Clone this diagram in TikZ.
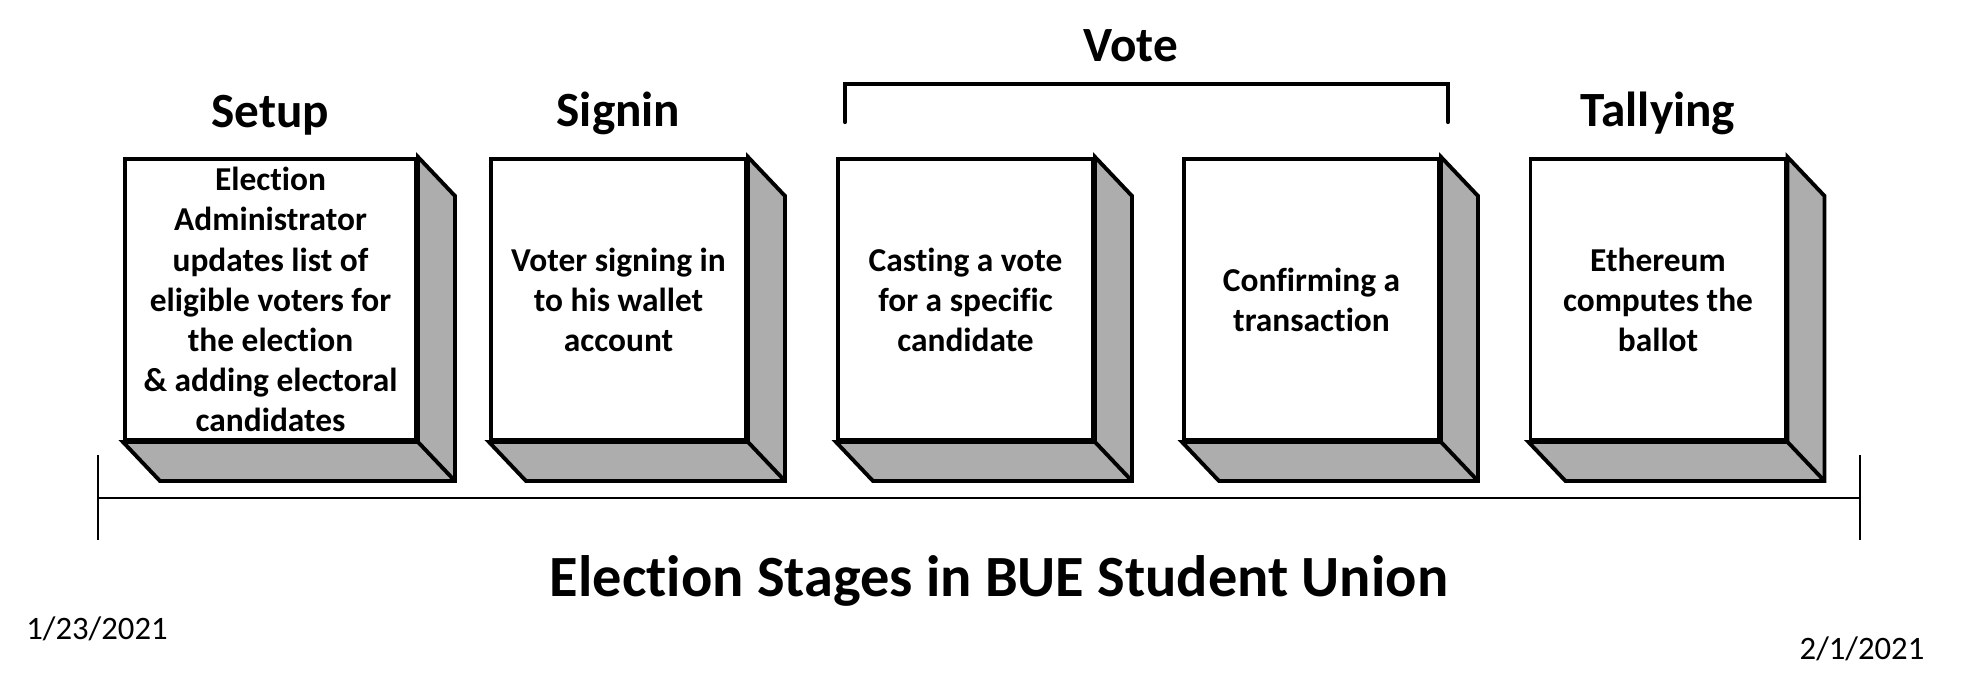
\documentclass[tikz,border=0pt]{standalone}
\usepackage{fontspec}
\setmainfont[Ligatures={NoCommon}]{Carlito}
\usepackage{tikz}
\usetikzlibrary{calc}
\usetikzlibrary{positioning}

\definecolor{sidegray}{RGB}{173,173,173}

\begin{document}
\begin{tikzpicture}[x=0.01cm, y=-0.01cm,
        stagebox/.style = {draw, fill=white, line width=1.1pt, align=center, inner sep=0pt,
                minimum width=2.55cm, minimum height=2.81cm,
                font=\bfseries\fontsize{9.5}{11.4}\selectfont},
        boxside/.style = {draw, fill=sidegray, line width=1.1pt},
        heading/.style = {inner sep=0pt, font=\bfseries\fontsize{14}{17}\selectfont},
        datelabel/.style = {inner sep=0pt, font=\fontsize{9.3}{11}\selectfont}]
        \useasboundingbox (0,0) rectangle (1961,676);
        % stage boxes
        \node[stagebox, minimum width=2.91cm] (setupbox) at (270.5,299.5)
                {Election\\Administrator\\updates list of\\eligible voters for\\the election\\\& adding electoral\\candidates};
        \node[stagebox] (signinbox) at (618.5,299.5) {Voter signing in\\to his wallet\\account};
        \node[stagebox] (castbox) at (965.5,299.5) {Casting a vote\\for a specific\\candidate};
        \node[stagebox] (confirmbox) at (1311.5,299.5) {Confirming a\\transaction};
        \node[stagebox] (tallybox) at (1658,299.5) {Ethereum\\computes the\\ballot};
        \foreach \b in {setupbox,signinbox,castbox,confirmbox,tallybox}{
                \filldraw[boxside] (\b.north east) -- ($(\b.north east)+(37,39)$) -- ($(\b.south east)+(37,39)$)
                        -- ($(\b.south west)+(37,39)$) -- (\b.south west) -- (\b.south east) -- cycle;
                \draw[line width=1.1pt] (\b.south east) -- ++(37,39);
        }
        % headings
        \node[heading, above=0.21cm of setupbox] (setup) {Setup};
        \node[heading, above=0.21cm of signinbox] (signin) {Signin};
        \node[heading, above=0.21cm of tallybox] (tally) {Tallying};
        % vote bracket
        \coordinate (vl) at (845,122);
        \coordinate (vtl) at (845,84);
        \coordinate (vtr) at (1448,84);
        \coordinate (vr) at (1448,122);
        \draw[line width=1.2pt, line cap=round] (vl) -- (vtl) -- (vtr) -- (vr);
        \node[heading, above=0.21cm, xshift=-0.16cm] (vote) at ($(vtl)!0.5!(vtr)$) {Vote};
        % time line
        \coordinate (tl) at (98,498);
        \coordinate (tr) at (1860,498);
        \draw[line width=0.8pt] (tl) -- (tr);
        \draw[line width=0.8pt] ($(tl)+(0,-43)$) -- ($(tl)+(0,42)$);
        \draw[line width=0.8pt] ($(tr)+(0,-43)$) -- ($(tr)+(0,42)$);
        \node[inner sep=0pt, font=\bfseries\fontsize{16.6}{20}\selectfont] (title) at (999,581)
                {Election Stages in BUE Student Union};
        \node[datelabel] (startdate) at (97,629) {1/23/2021};
        \node[datelabel] (enddate) at (1862,649) {2/1/2021};
\end{tikzpicture}
\end{document}
